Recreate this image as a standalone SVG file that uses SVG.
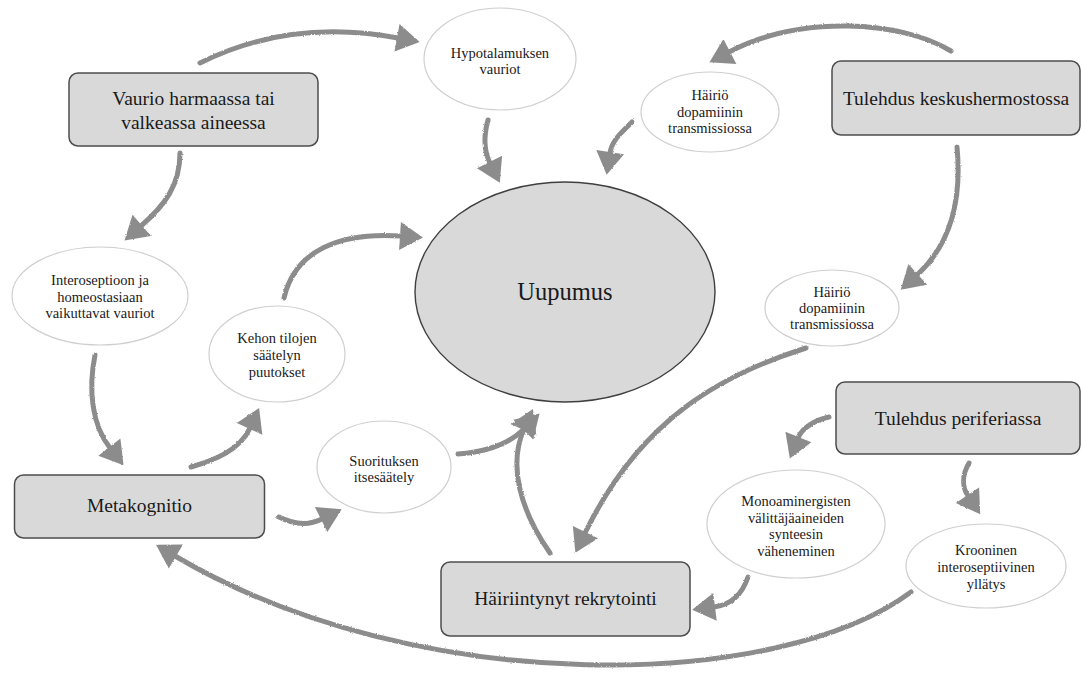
<svg xmlns="http://www.w3.org/2000/svg" width="1082" height="675" viewBox="0 0 1082 675">
  <style>
    .box { fill: #d9d9d9; stroke: #4d4d4d; stroke-width: 1.5; }
    .oval { fill: #ffffff; stroke: #cfcfcf; stroke-width: 1.2; }
    .big { fill: #d9d9d9; stroke: #3f3f3f; stroke-width: 1.4; }
    .bt { font-family: "Liberation Serif", "Times New Roman", serif; font-size: 19.5px; fill: #1a1a1a; text-anchor: middle; }
    .st { font-family: "Liberation Serif", "Times New Roman", serif; font-size: 14.5px; fill: #1a1a1a; text-anchor: middle; }
    .ut { font-family: "Liberation Serif", "Times New Roman", serif; font-size: 24.5px; fill: #1a1a1a; text-anchor: middle; }
    .arr { fill: none; stroke: #8c8c8c; stroke-width: 5; stroke-linecap: round; marker-end: url(#head); }
  </style>
  <defs>
    <marker id="head" markerUnits="userSpaceOnUse" viewBox="-2 -15 26 30" markerWidth="26" markerHeight="30" refX="0" refY="0" orient="auto">
      <path d="M-1,-14 L22,0 L-1,14 Z" fill="#8c8c8c"/>
    </marker>
    <filter id="rough" x="-5%" y="-5%" width="110%" height="110%">
      <feTurbulence type="fractalNoise" baseFrequency="0.9" numOctaves="2" seed="3" result="n"/>
      <feDisplacementMap in="SourceGraphic" in2="n" scale="2.2" xChannelSelector="R" yChannelSelector="G"/>
    </filter>
  </defs>

  <g id="connectors" filter="url(#rough)">
    <path class="arr" d="M200,63 Q290,18 398,38"/>
    <path class="arr" d="M488,120 Q481,145 490,163"/>
    <path class="arr" d="M180,153 C180,185 165,205 141,226"/>
    <path class="arr" d="M284,298 C295,250 340,232 401,236"/>
    <path class="arr" d="M951,51 C900,20 800,15 729,52"/>
    <path class="arr" d="M632,122 C622,132 612,140 610,153"/>
    <path class="arr" d="M957,147 C962,200 950,245 917,275"/>
    <path class="arr" d="M806,348 C720,375 640,420 585,533"/>
    <path class="arr" d="M550,553 C520,510 508,465 524,429"/>
    <path class="arr" d="M458,454 C485,452 508,445 524,429"/>
    <path class="arr" d="M95,355 C88,390 92,425 110,448"/>
    <path class="arr" d="M191,467 C215,460 240,450 250,428"/>
    <path class="arr" d="M279,517 C295,525 310,525 322,519"/>
    <path class="arr" d="M911,592 C780,690 420,700 175,556"/>
    <path class="arr" d="M829,417 C815,420 802,428 798,438"/>
    <path class="arr" d="M969,463 C962,475 962,487 968,496"/>
    <path class="arr" d="M748,577 C742,595 730,605 714,607"/>
  </g>

  <g id="uupumus">
    <ellipse class="big" cx="565" cy="292" rx="150" ry="110"/>
    <text class="ut" x="565" y="300">Uupumus</text>
  </g>

  <g id="vaurio">
    <rect class="box" x="69" y="73" width="249" height="73" rx="9"/>
    <text class="bt" x="193.5" y="104.5">Vaurio harmaassa tai</text>
    <text class="bt" x="193.5" y="128.5">valkeassa aineessa</text>
  </g>

  <g id="tulehdus-keskus">
    <rect class="box" x="832" y="61" width="248" height="74" rx="9"/>
    <text class="bt" x="956" y="105">Tulehdus keskushermostossa</text>
  </g>

  <g id="metakognitio">
    <rect class="box" x="14.5" y="475" width="250" height="63" rx="9"/>
    <text class="bt" x="139.5" y="512">Metakognitio</text>
  </g>

  <g id="tulehdus-periferia">
    <rect class="box" x="836" y="382" width="244" height="72" rx="9"/>
    <text class="bt" x="958" y="425">Tulehdus periferiassa</text>
  </g>

  <g id="rekrytointi">
    <rect class="box" x="441" y="562" width="249" height="74" rx="9"/>
    <text class="bt" x="565.5" y="605">Häiriintynyt rekrytointi</text>
  </g>

  <g id="hypotalamus">
    <ellipse class="oval" cx="500" cy="59" rx="76" ry="51"/>
    <text class="st" x="500" y="57.5">Hypotalamuksen</text>
    <text class="st" x="500" y="74">vauriot</text>
  </g>

  <g id="dopamiini-1">
    <ellipse class="oval" cx="710" cy="112" rx="69" ry="40"/>
    <text class="st" x="710" y="100">Häiriö</text>
    <text class="st" x="710" y="116.5">dopamiinin</text>
    <text class="st" x="710" y="133">transmissiossa</text>
  </g>

  <g id="interoseptio">
    <ellipse class="oval" cx="100" cy="296" rx="88" ry="49"/>
    <text class="st" x="100" y="285">Interoseptioon ja</text>
    <text class="st" x="100" y="301.5">homeostasiaan</text>
    <text class="st" x="100" y="318">vaikuttavat vauriot</text>
  </g>

  <g id="kehon-tilat">
    <ellipse class="oval" cx="277" cy="354" rx="68" ry="48"/>
    <text class="st" x="277" y="343">Kehon tilojen</text>
    <text class="st" x="277" y="360">säätelyn</text>
    <text class="st" x="277" y="377">puutokset</text>
  </g>

  <g id="suoritus">
    <ellipse class="oval" cx="384" cy="467" rx="67" ry="46"/>
    <text class="st" x="384" y="466">Suorituksen</text>
    <text class="st" x="384" y="482">itsesäätely</text>
  </g>

  <g id="dopamiini-2">
    <ellipse class="oval" cx="832" cy="308" rx="67" ry="38"/>
    <text class="st" x="832" y="297">Häiriö</text>
    <text class="st" x="832" y="313">dopamiinin</text>
    <text class="st" x="832" y="329">transmissiossa</text>
  </g>

  <g id="monoamiini">
    <ellipse class="oval" cx="796" cy="524" rx="89" ry="54"/>
    <text class="st" x="796" y="506">Monoaminergisten</text>
    <text class="st" x="796" y="522.5">välittäjäaineiden</text>
    <text class="st" x="796" y="539">synteesin</text>
    <text class="st" x="796" y="555.5">väheneminen</text>
  </g>

  <g id="yllatys">
    <ellipse class="oval" cx="986" cy="566" rx="80" ry="42"/>
    <text class="st" x="986" y="555">Krooninen</text>
    <text class="st" x="986" y="572">interoseptiivinen</text>
    <text class="st" x="986" y="589">yllätys</text>
  </g>
</svg>
